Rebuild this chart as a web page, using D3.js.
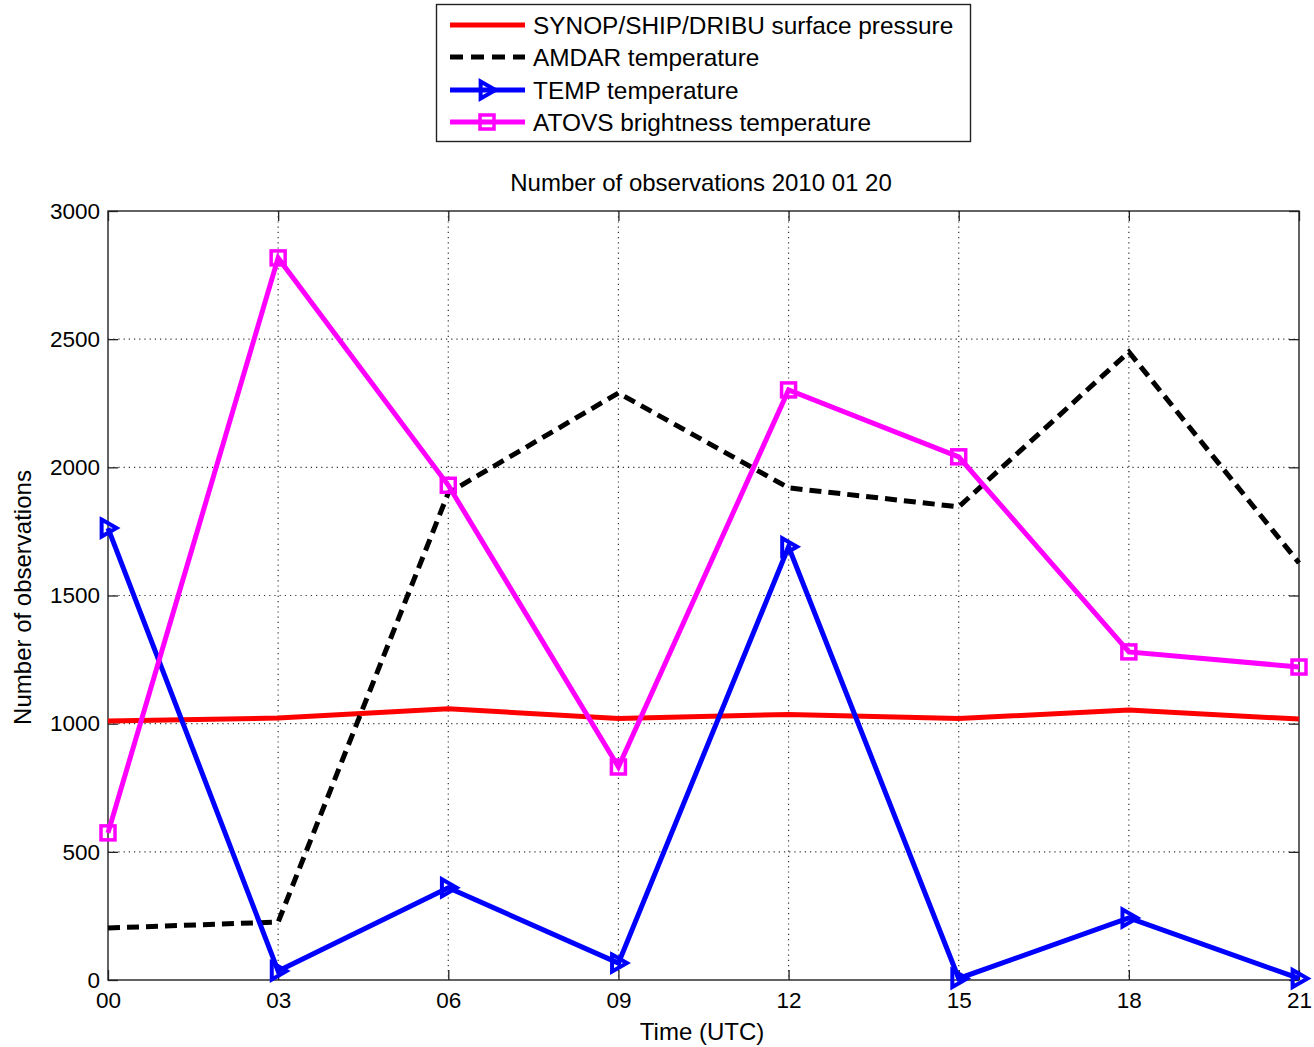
<!DOCTYPE html>
<html>
<head>
<meta charset="utf-8">
<script src="https://cdn.jsdelivr.net/npm/d3@7"></script>
<style>
  html, body { margin: 0; padding: 0; background: #fff; }
  svg text { font-family: "Liberation Sans", Arial, Helvetica, sans-serif; fill: #000; }
</style>
</head>
<body>
<svg id="chart" width="1314" height="1047"></svg>
<script>
// Synoptic hours (UTC)
const hours = ["00", "03", "06", "09", "12", "15", "18", "21"];

// Observation counts per observation type
const synopSurfacePressure = [1010, 1022, 1058, 1020, 1036, 1020, 1053, 1018];
const amdarTemperature     = [203, 226, 1900, 2290, 1920, 1846, 2450, 1627];
const tempTemperature      = [1763, 35, 360, 66, 1690, 6, 242, 6];
const atovsBrightnessTemp  = [574, 2817, 1930, 831, 2302, 2041, 1280, 1221];

const yTicks = [0, 500, 1000, 1500, 2000, 2500, 3000];

const seriesNames = [
  "SYNOP/SHIP/DRIBU surface pressure",
  "AMDAR temperature",
  "TEMP temperature",
  "ATOVS brightness temperature"
];

const series = [
  { name: seriesNames[0], values: synopSurfacePressure, color: "#ff0000", dash: null, marker: null },
  { name: seriesNames[1], values: amdarTemperature, color: "#000000", dash: "12,7", marker: null },
  { name: seriesNames[2], values: tempTemperature, color: "#0000ff", dash: null, marker: "triangle" },
  { name: seriesNames[3], values: atovsBrightnessTemp, color: "#ff00ff", dash: null, marker: "square" }
];

const svg = d3.select("#chart");
const m = { left: 108, right: 1299, top: 211, bottom: 980 };

const x = d3.scalePoint().domain(hours).range([m.left, m.right]);
const y = d3.scaleLinear().domain([0, 3000]).range([m.bottom, m.top]);

// Dotted grid
const grid = svg.append("g");
grid.selectAll("line.gx").data(hours.slice(1, -1)).enter().append("line")
  .attr("x1", d => x(d)).attr("x2", d => x(d))
  .attr("y1", m.top).attr("y2", m.bottom)
  .attr("stroke", "#333").attr("stroke-width", 1.2).attr("stroke-dasharray", "1.2,4");
grid.selectAll("line.gy").data(yTicks.slice(1, -1)).enter().append("line")
  .attr("x1", m.left).attr("x2", m.right)
  .attr("y1", d => y(d)).attr("y2", d => y(d))
  .attr("stroke", "#333").attr("stroke-width", 1.2).attr("stroke-dasharray", "1.2,4");

// Axes with inward ticks on all four sides
const tickLen = 10;
const axB = svg.append("g").attr("transform", `translate(0,${m.bottom})`)
  .call(d3.axisBottom(x).tickSize(-tickLen).tickPadding(12));
const axT = svg.append("g").attr("transform", `translate(0,${m.top})`)
  .call(d3.axisTop(x).tickSize(-tickLen).tickFormat(""));
const axL = svg.append("g").attr("transform", `translate(${m.left},0)`)
  .call(d3.axisLeft(y).tickValues(yTicks).tickFormat(d3.format("d")).tickSize(-tickLen).tickPadding(8));
const axR = svg.append("g").attr("transform", `translate(${m.right},0)`)
  .call(d3.axisRight(y).tickValues(yTicks).tickSize(-tickLen).tickFormat(""));
[axB, axT, axL, axR].forEach(g => {
  g.select(".domain").remove();
  g.selectAll(".tick line").attr("stroke", "#222").attr("stroke-width", 1.3);
  g.selectAll("text").style("font-size", "22.5px").attr("fill", "#000");
});

// Plot frame
svg.append("rect")
  .attr("x", m.left).attr("y", m.top)
  .attr("width", m.right - m.left).attr("height", m.bottom - m.top)
  .attr("fill", "none").attr("stroke", "#222").attr("stroke-width", 1.4);

// Series lines
const line = d3.line().x((d, i) => x(hours[i])).y(d => y(d));
const plot = svg.append("g");

function drawMarker(g, type, cx, cy, color) {
  if (type === "triangle") {
    const s = 8.5;
    g.append("path")
      .attr("d", `M${cx - s * 0.75},${cy - s} L${cx + s},${cy} L${cx - s * 0.75},${cy + s} Z`)
      .attr("fill", "none").attr("stroke", color).attr("stroke-width", 4)
      .attr("stroke-linejoin", "miter");
  } else if (type === "square") {
    const s = 7;
    g.append("rect")
      .attr("x", cx - s).attr("y", cy - s).attr("width", 2 * s).attr("height", 2 * s)
      .attr("fill", "none").attr("stroke", color).attr("stroke-width", 3.5);
  }
}

series.forEach(s => {
  plot.append("path")
    .datum(s.values)
    .attr("d", line)
    .attr("fill", "none")
    .attr("stroke", s.color)
    .attr("stroke-width", 5)
    .attr("stroke-linejoin", "miter")
    .attr("stroke-dasharray", s.dash);
  if (s.marker) {
    s.values.forEach((v, i) => drawMarker(plot, s.marker, x(hours[i]), y(v), s.color));
  }
});

// Title and axis labels
svg.append("text")
  .attr("x", 701).attr("y", 191)
  .attr("text-anchor", "middle").style("font-size", "24px")
  .text("Number of observations 2010 01 20");
svg.append("text")
  .attr("x", 702).attr("y", 1040)
  .attr("text-anchor", "middle").style("font-size", "24px")
  .text("Time (UTC)");
svg.append("text")
  .attr("transform", `translate(31,${(m.top + m.bottom) / 2 + 2}) rotate(-90)`)
  .attr("text-anchor", "middle").style("font-size", "24px")
  .text("Number of observations");

// Legend
const legend = svg.append("g");
legend.append("rect")
  .attr("x", 436.5).attr("y", 4.5).attr("width", 534).attr("height", 137)
  .attr("fill", "#fff").attr("stroke", "#222").attr("stroke-width", 1.4);
const rowY = [25, 57, 90, 122];
series.forEach((s, i) => {
  const yy = rowY[i];
  legend.append("line")
    .attr("x1", 450).attr("x2", 525).attr("y1", yy).attr("y2", yy)
    .attr("stroke", s.color).attr("stroke-width", 5)
    .attr("stroke-dasharray", s.dash ? "13,8" : null);
  if (s.marker) drawMarker(legend, s.marker, 487, yy, s.color);
  legend.append("text")
    .attr("x", 533).attr("y", yy + 8.5)
    .style("font-size", "24.4px")
    .text(s.name);
});
</script>
</body>
</html>
